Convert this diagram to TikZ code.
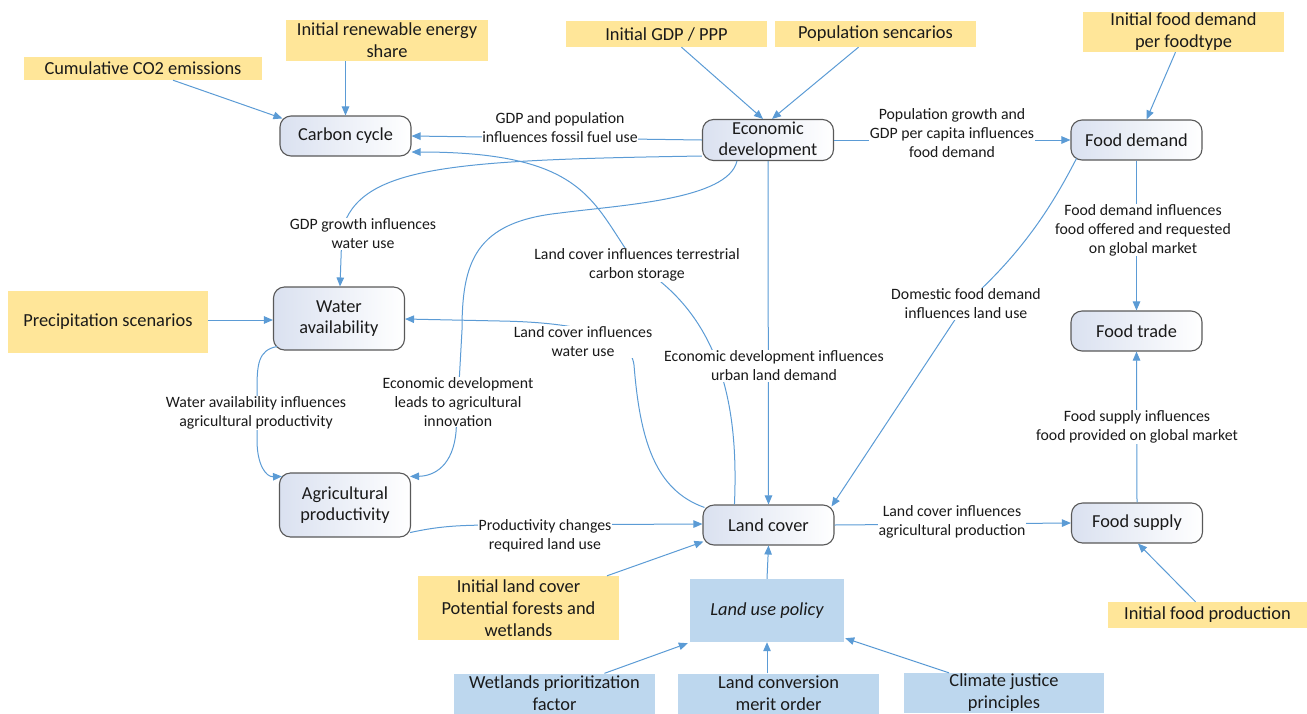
\documentclass[tikz,border=0pt]{standalone}
\usepackage{fontspec}
\setmainfont{Carlito}
\usetikzlibrary{arrows.meta,calc}
\definecolor{lineblue}{HTML}{5B9BD5}
\definecolor{ybox}{HTML}{FFE699}
\definecolor{bbox}{HTML}{BDD7EE}
\definecolor{nodegray}{HTML}{595959}
\definecolor{shadeblue}{HTML}{DAE1F0}
\definecolor{shademid}{HTML}{F3F6FB}
\definecolor{txt}{HTML}{1A1A1A}
\begin{document}
\begin{tikzpicture}[x=1pt,y=-1pt,
  proc/.style={draw=nodegray, line width=1.1pt, rounded corners=11pt, left color=shadeblue, middle color=shademid, right color=white, minimum width=131pt, inner sep=0pt, align=center, font=\fontsize{18.3}{21.5}\selectfont, text=txt},
  inbox/.style={fill=ybox, inner sep=0pt, align=center, font=\fontsize{18.4}{22}\selectfont, text=txt},
  polbox/.style={fill=bbox, inner sep=0pt, align=center, font=\fontsize{18.4}{22}\selectfont, text=txt},
  lbl/.style={fill=white, inner sep=0.6pt, align=center, font=\fontsize{15.8}{19}\selectfont, text=txt},
  conn/.style={draw=lineblue, line width=1pt, -{Triangle[length=9pt,width=7.5pt]}},
]
\useasboundingbox (0,0) rectangle (1307,713);

% process nodes
\node[proc, minimum height=40pt] (carbon) at (345.5,136) {Carbon cycle};
\node[proc, minimum height=41pt] (econ) at (768,140) {Economic\\[0pt]development};
\node[proc, minimum height=40pt] (fdem) at (1136.5,140) {Food demand};
\node[proc, minimum height=63pt] (water) at (339,318.5) {Water\\availability};
\node[proc, minimum height=40pt] (ftrade) at (1136.5,331) {Food trade};
\node[proc, minimum height=64pt] (agri) at (345,505) {Agricultural\\productivity};
\node[proc, minimum height=40pt] (lc) at (768.5,525) {Land cover};
\node[proc, minimum height=40pt] (fsup) at (1137,523) {Food supply};

% input boxes
\node[inbox, minimum width=238pt, minimum height=23pt] (cum) at (143,68.5) {Cumulative CO2 emissions};
\node[inbox, minimum width=202pt, minimum height=41pt] (renew) at (387,40.5) {Initial renewable energy\\share};
\node[inbox, minimum width=201pt, minimum height=26pt] (gdp) at (666.5,34) {Initial GDP / PPP};
\node[inbox, minimum width=201pt, minimum height=26pt] (pop) at (875.5,34) {Population sencarios};
\node[inbox, minimum width=201pt, minimum height=40pt] (ifd) at (1183.5,32) {Initial food demand\\per foodtype};
\node[inbox, minimum width=200pt, minimum height=62pt] (precip) at (108,322) {Precipitation scenarios};
\node[inbox, minimum width=201pt, minimum height=64pt] (ilc) at (518.5,608) {Initial land cover\\Potential forests and\\wetlands};
\node[inbox, minimum width=199pt, minimum height=26pt] (ifp) at (1207.5,615) {Initial food production};

% policy boxes
\node[polbox, minimum width=154pt, minimum height=63pt, font=\fontsize{18.4}{22}\selectfont\itshape] (lup) at (767,610.5) {Land use policy};
\node[polbox, minimum width=201pt, minimum height=40pt] (wet) at (554.5,693.5) {Wetlands prioritization\\factor};
\node[polbox, minimum width=201pt, minimum height=40pt] (lconv) at (778.5,693.5) {Land conversion\\merit order};
\node[polbox, minimum width=200pt, minimum height=40pt] (cjust) at (1004,693) {Climate justice\\principles};

% connectors from inputs
\draw[conn] ($(cum.south)+(30,0)$) -- ($(carbon.north west)+(3,3)$);
\draw[conn] (renew.south -| carbon.north) -- (carbon.north);
\draw[conn] ($(gdp.south)+(15,0)$) -- ($(econ.north)+(-5,0)$);
\draw[conn] ($(pop.south)+(-17,0)$) -- ($(econ.north)+(4,0)$);
\draw[conn] ($(ifd.south)+(-8,0)$) -- ($(fdem.north)+(10,0)$);
\draw[conn] ($(precip.east)+(0,-2)$) -- ($(water.west)+(0,1.5)$);
\draw[conn] ($(ilc.north)+(88.5,0)$) -- ($(lc.south west)+(1,-4)$);
\draw[conn] ($(ifp.north)+(-12,0)$) -- ($(fsup.south)+(1,0)$);
\draw[conn] (lup.north) -- (lc.south);
\draw[conn] ($(wet.north)+(50,0)$) -- ($(lup.south west)+(-2,1)$);
\draw[conn] (lconv.north -| lup.south) -- (lup.south);
\draw[conn] ($(cjust.north)+(-55,0)$) -- ($(lup.south east)+(1,-4)$);

% connectors between processes
\draw[conn] (econ.west) -- (carbon.east);
\draw[conn] (econ.east) -- (fdem.west);
\draw[conn] (econ.south) -- (lc.north);
\draw[conn] (fdem.south) -- (ftrade.north);
\draw[conn] (fsup.north) -- (ftrade.south);
\draw[conn] (lc.east) -- (fsup.west);
\draw[conn] ($(agri.south east)+(-1,-5)$) .. controls (440,526) and (460,525) .. (500,525) -- ($(lc.west)+(0,-1)$);
\draw[conn] ($(fdem.south west)+(6,-2)$) .. controls (1050,210) and (1020,255) .. (966,303) -- ($(lc.north east)+(-3,2)$);
\draw[conn] ($(lc.north west)+(32,0)$) .. controls (738,420) and (728,320) .. (637,265) .. controls (592,205) and (590,152) .. ($(carbon.east)+(0,16)$);
\draw[conn] ($(lc.north west)+(2,3)$) .. controls (655,490) and (640,440) .. (634,365) .. controls (630,330) and (560,322) .. (500,321) -- ($(water.east)+(0,0.5)$);
\draw[conn] ($(econ.west)+(0,16)$) .. controls (450,160) and (360,166) .. (342,230) -- ($(water.north)+(1,0)$);
\draw[conn] ($(econ.south west)+(35,0)$) .. controls (728,200) and (620,205) .. (560,213) .. controls (475,222) and (462,262) .. (462,330) -- (458,402) -- (456,432) .. controls (453,465) and (435,476) .. ($(agri.north east)+(-1,4)$);
\draw[conn] ($(water.south west)+(4,-4)$) .. controls (258,350) and (257,365) .. (257,390) -- (257,440) .. controls (257,465) and (266,477) .. ($(agri.north west)+(3,4)$);

% labels
\node[lbl] (l1) at (560,127.5) {GDP and population\\influences fossil fuel use};
\node[lbl] (l2) at (952,133) {Population growth and\\GDP per capita influences\\food demand};
\node[lbl] (l3) at (363,234) {GDP growth influences\\water use};
\node[lbl] (l4) at (637,265) {Land cover influences terrestrial\\carbon storage};
\node[lbl] (l5) at (1143,230) {Food demand influences\\food offered and requested\\on global market};
\node[lbl] (l6) at (966,304) {Domestic food demand\\influences land use};
\node[lbl] (l7) at (583,342) {Land cover influences\\water use};
\node[lbl] (l8) at (774,366) {Economic development influences\\urban land demand};
\node[lbl] (l9) at (458,402) {Economic development\\leads to agricultural\\innovation};
\node[lbl] (l10) at (256,413) {Water availability influences\\agricultural productivity};
\node[lbl] (l11) at (1137,427) {Food supply influences\\food provided on global market};
\node[lbl] (l12) at (545,536) {Productivity changes\\required land use};
\node[lbl] (l13) at (952,522) {Land cover influences\\agricultural production};
\end{tikzpicture}
\end{document}
